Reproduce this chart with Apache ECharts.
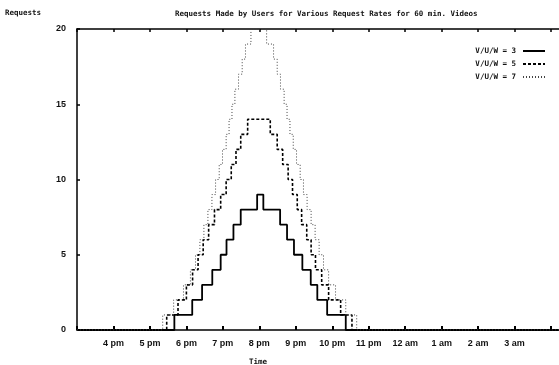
<!DOCTYPE html>
<html>
<head>
<meta charset="utf-8">
<script src="https://cdn.jsdelivr.net/npm/echarts@6/dist/echarts.min.js"></script>
<style>html,body{margin:0;padding:0;background:#fff}#c{width:559px;height:365px}</style>
</head>
<body>
<div id="c"></div>
<script>
// x values are hours of the day (15 = 3 pm, 24 = 12 am, 28 = 4 am)
const xTickHours = [15,16,17,18,19,20,21,22,23,24,25,26,27,28];
const xTickLabels = ['', '4 pm', '5 pm', '6 pm', '7 pm', '8 pm', '9 pm', '10 pm', '11 pm', '12 am', '1 am', '2 am', '3 am', ''];
const yTickLabels = ['0', '5', '10', '15', '20'];
const seriesNames = ['V/U/W = 3', 'V/U/W = 5', 'V/U/W = 7'];

const vuw3Times  = [15, 17.67, 18.16, 18.43, 18.71, 18.94, 19.10, 19.29, 19.49, 19.94, 20.11, 20.57, 20.76, 20.95, 21.18, 21.41, 21.59, 21.86, 22.37, 28.3];
const vuw3Values = [0, 1, 2, 3, 4, 5, 6, 7, 8, 9, 8, 7, 6, 5, 4, 3, 2, 1, 0, 0];

const vuw5Times  = [15, 17.46, 17.77, 18.00, 18.17, 18.32, 18.46, 18.61, 18.77, 18.94, 19.09, 19.23, 19.36, 19.49, 19.68,
                    20.30, 20.49, 20.64, 20.79, 20.91, 21.04, 21.16, 21.30, 21.42, 21.54, 21.71, 21.90, 22.23, 22.54, 28.3];
const vuw5Values = [0, 1, 2, 3, 4, 5, 6, 7, 8, 9, 10, 11, 12, 13, 14,
                    13, 12, 11, 10, 9, 8, 7, 6, 5, 4, 3, 2, 1, 0, 0];

const vuw7Times  = [15, 17.35, 17.65, 17.92, 18.11, 18.25, 18.37, 18.48, 18.59, 18.70, 18.80, 18.90, 18.99, 19.09, 19.17, 19.25, 19.33, 19.43, 19.53, 19.62, 19.77,
                    20.20, 20.39, 20.49, 20.58, 20.68, 20.76, 20.84, 20.93, 21.02, 21.12, 21.21, 21.31, 21.42, 21.53, 21.64, 21.76, 21.90, 22.09, 22.37, 22.67, 28.3];
const vuw7Values = [0, 1, 2, 3, 4, 5, 6, 7, 8, 9, 10, 11, 12, 13, 14, 15, 16, 17, 18, 19, 20,
                    19, 18, 17, 16, 15, 14, 13, 12, 11, 10, 9, 8, 7, 6, 5, 4, 3, 2, 1, 0, 0];

function zip(a, b) { return a.map((t, i) => [t, b[i]]); }
function xLabel(v) {
  const i = xTickHours.indexOf(Math.round(v * 1000) / 1000);
  return i >= 0 ? xTickLabels[i] : '';
}
function yLabel(v) {
  const i = [0, 5, 10, 15, 20].indexOf(v);
  return i >= 0 ? yTickLabels[i] : '';
}

const smallFont = { fontFamily: 'DejaVu Sans Mono', fontWeight: 'bold', fontSize: 7.5, color: '#111' };
const tickFont = { fontFamily: 'Liberation Sans', fontWeight: 'bold', fontSize: 9, color: '#111' };

const chart = echarts.init(document.getElementById('c'), null, { renderer: 'canvas' });
chart.setOption({
  animation: false,
  backgroundColor: '#fff',
  title: {
    text: 'Requests Made by Users for Various Request Rates for 60 min. Videos',
    left: 170, top: 5,
    textStyle: smallFont
  },
  legend: {
    data: seriesNames,
    orient: 'vertical',
    right: 8, top: 42,
    align: 'right',
    itemWidth: 22, itemHeight: 8, itemGap: 5,
    itemStyle: { opacity: 0 },
    textStyle: Object.assign({}, smallFont, { padding: [0, 2, 0, 0] })
  },
  grid: { left: 77, right: -3, top: 29, bottom: 35, containLabel: false, outerBoundsMode: 'none' },
  xAxis: [{
    type: 'value', min: 15, max: 28.3, interval: 1,
    name: 'Time', nameLocation: 'middle', nameGap: 28,
    nameTextStyle: Object.assign({}, smallFont, { padding: [0, 123, 0, 0] }),
    axisLine: { lineStyle: { color: '#000', width: 1.5 } },
    axisTick: { inside: true, length: 4, lineStyle: { color: '#000', width: 2 } },
    axisLabel: Object.assign({ formatter: xLabel, margin: 9 }, tickFont),
    splitLine: { show: false }
  }, {
    type: 'value', position: 'top', min: 15, max: 28.3, interval: 1,
    axisLine: { show: true, onZero: false, lineStyle: { color: '#000', width: 1.5 } },
    axisTick: { inside: true, length: 3, lineStyle: { color: '#000', width: 1.5 } },
    axisLabel: { show: false },
    splitLine: { show: false }
  }],
  yAxis: {
    type: 'value', min: 0, max: 20, interval: 5,
    name: 'Requests', nameLocation: 'end', nameGap: 12,
    nameTextStyle: Object.assign({}, smallFont, { align: 'left', padding: [0, 0, 0, -72] }),
    axisLine: { show: true, lineStyle: { color: '#000', width: 1.5 } },
    axisTick: { inside: true, length: 3, lineStyle: { color: '#000', width: 1.5 } },
    axisLabel: Object.assign({ formatter: yLabel, margin: 11 }, tickFont),
    splitLine: { show: false }
  },
  series: [{
    name: seriesNames[0], type: 'line', step: 'end', symbol: 'none',
    data: zip(vuw3Times, vuw3Values),
    lineStyle: { color: '#000', width: 1.8, type: 'solid' },
    itemStyle: { color: '#000' }
  }, {
    name: seriesNames[1], type: 'line', step: 'end', symbol: 'none',
    data: zip(vuw5Times, vuw5Values),
    lineStyle: { color: '#000', width: 1.6, type: [3, 2] },
    itemStyle: { color: '#000' }
  }, {
    name: seriesNames[2], type: 'line', step: 'end', symbol: 'none',
    data: zip(vuw7Times, vuw7Values),
    lineStyle: { color: '#444', width: 1, type: [1, 2] },
    itemStyle: { color: '#444' }
  }]
});
</script>
</body>
</html>
